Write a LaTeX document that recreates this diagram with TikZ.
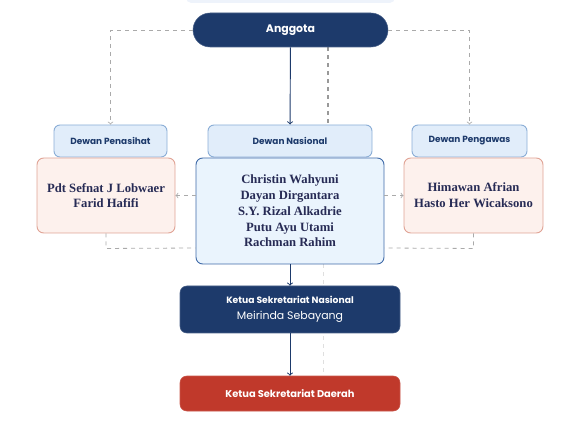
\documentclass[tikz,border=0pt]{standalone}
\usepackage{fontspec}
\setmainfont{Liberation Serif}
\newfontfamily\popfont{Poppins}
\usepackage{tikz}
\usetikzlibrary{arrows}
\usetikzlibrary{positioning}
\usetikzlibrary{backgrounds}
\definecolor{navy}{HTML}{1D3A6B}
\definecolor{ink}{HTML}{272B55}
\definecolor{headfill}{HTML}{E1EDFA}
\definecolor{headline}{HTML}{8AADD6}
\definecolor{natfill}{HTML}{EAF4FD}
\definecolor{natline}{HTML}{3F6AA8}
\definecolor{pinkfill}{HTML}{FDF1ED}
\definecolor{pinkline}{HTML}{E0A395}
\definecolor{redbox}{HTML}{C0392B}
\definecolor{dashgray}{HTML}{AAAAAA}
\definecolor{topfill}{HTML}{EEF3FB}
\tikzset{head/.style = {draw=headline, fill=headfill, rounded corners=4.5pt,
                        line width=0.7pt, text=navy, minimum height=24pt,
                        font=\popfont\bfseries\fontsize{6.7}{8}\selectfont},
         namebox/.style = {rounded corners=5pt, line width=0.7pt, text=ink,
                           align=center,
                           font=\bfseries\fontsize{9.5}{11.8}\selectfont},
         darkbox/.style = {fill=navy, draw=navy!80!white, rounded corners=5pt,
                           text=white, align=center, minimum width=165pt},
         link/.style = {draw=navy, line width=0.7pt, -to},
         dashlink/.style = {draw=dashgray, dashed, line width=0.6pt}}

\begin{document}
\begin{tikzpicture}[x=0.75pt, y=-0.75pt]
    \useasboundingbox (0,0) rectangle (585,427);
    \fill [topfill, rounded corners=4pt] (186,-12) rectangle (395,3);

    \node [darkbox, minimum width=146.25pt, minimum height=25.5pt,
           rounded corners=12.75pt, font=\popfont\bfseries\fontsize{8.2}{10}\selectfont]
      (anggota) at (290.5,30) {Anggota};

    \node [head, minimum width=84.75pt] (hPen) at (110.5,141) {Dewan Penasihat};
    \node [head, minimum width=123pt] (hNas) at (290,141) {Dewan Nasional};
    \node [head, minimum width=86.25pt] (hPeng) at (469.5,141) {Dewan Pengawas};

    \node [namebox, draw=pinkline, fill=pinkfill, minimum width=103.5pt,
           minimum height=56.25pt] (bPen) at (106,195.5)
      {Pdt Sefnat J Lobwaer\\Farid Hafifi};
    \node [namebox, draw=natline, fill=natfill, minimum width=141pt,
           minimum height=79.5pt] (bNas) at (290,211)
      {Christin Wahyuni\\Dayan Dirgantara\\S.Y. Rizal Alkadrie\\Putu Ayu Utami\\Rachman Rahim};
    \node [namebox, draw=pinkline, fill=pinkfill, minimum width=104.25pt,
           minimum height=56.25pt] (bPeng) at (473.5,195.5)
      {Himawan Afrian\\Hasto Her Wicaksono};

    \node [darkbox, minimum height=35.25pt] (sekNas) at (290,309.5)
      {{\popfont\bfseries\fontsize{6.9}{8}\selectfont Ketua Sekretariat Nasional}\\
       {\popfont\fontsize{8.2}{10}\selectfont Meirinda Sebayang}};
    \node [darkbox, fill=redbox, draw=redbox!85!white, minimum height=26.25pt,
           font=\popfont\bfseries\fontsize{7.4}{9}\selectfont]
      (sekDae) at (290,393.5) {Ketua Sekretariat Daerah};

    \begin{scope}[on background layer]
      \draw [dashlink, draw=gray!80, line width=1.1pt]
        ([xshift=28pt]anggota.south) -- ([xshift=28pt]anggota.south |- hNas.north);
      \draw [dashlink, draw=gray!25] ([xshift=24.75pt]bNas.south) -- ([xshift=24.75pt]sekDae.north);
    \end{scope}

    \draw [dashlink, -to] (anggota.west) -| (hPen.north);
    \draw [dashlink, -to] (anggota.east) -| (hPeng.north);
    \draw [dashlink, -to] (bNas.west |- bPen.east) -- (bPen.east);
    \draw [dashlink, -to] (bNas.east |- bPeng.west) -- (bPeng.west);
    \draw [dashlink] (bPen.south) -- ++(0,15) -- (bNas.west |- 0,248);
    \draw [dashlink] (bPeng.south) -- ++(0,15) -- (bNas.east |- 0,248);

    \draw [link] (anggota) -- (hNas);
    \draw [link] (bNas) -- (sekNas);
    \draw [link] (sekNas) -- (sekDae);
  \end{tikzpicture}
\end{document}
